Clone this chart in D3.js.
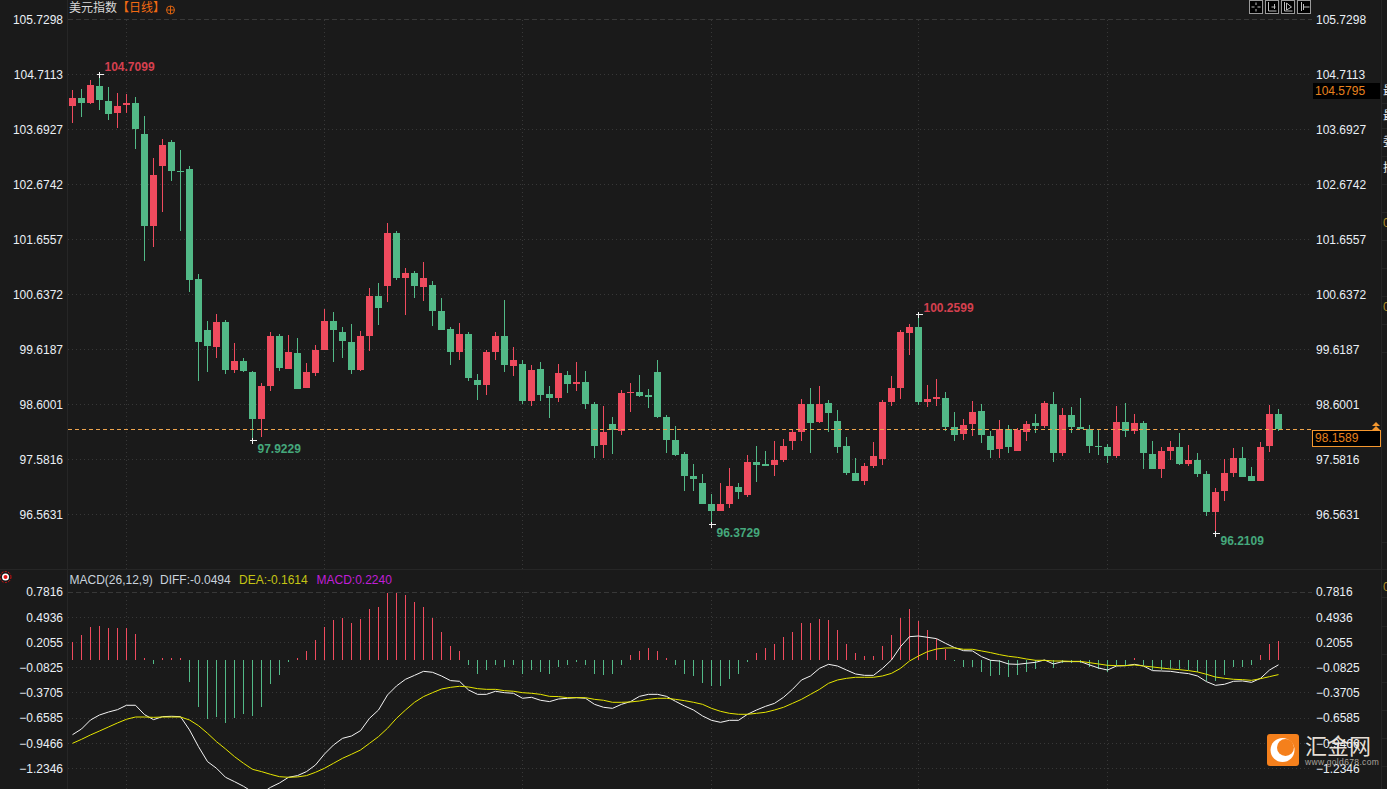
<!DOCTYPE html>
<html>
<head>
<meta charset="utf-8">
<title>美元指数</title>
<script src="https://cdn.jsdelivr.net/npm/d3@7"></script>
<style>
html, body { margin: 0; padding: 0; background: #1a1a1a; overflow: hidden; }
svg { display: block; }
text { font-family: "Liberation Sans", Arial, sans-serif; font-size: 12px; }
.cjk { font-family: "Noto Sans CJK SC", sans-serif; }
.axis text { fill: #eaf0f6; }
.axis path, .axis line { display: none; }
</style>
</head>
<body>
<div id="chart"></div>
<script>
/* === 美元指数 daily candles + MACD === */

var opens = [
    104.12,104.27,104.18,104.49,104.22,103.99,104.14,104.18,103.61,101.90,
    103.01,103.46,102.92,102.96,100.92,99.98,99.66,100.12,99.24,99.40,
    99.20,98.33,98.94,99.86,99.25,99.55,98.90,99.18,99.60,100.14,
    99.94,99.75,99.24,99.86,100.61,100.79,101.77,100.94,101.03,100.77,
    100.81,100.33,99.99,99.57,99.90,99.05,98.96,99.57,99.86,99.31,
    99.35,98.66,99.25,98.79,98.72,99.14,98.98,99.01,98.61,97.85,
    98.24,98.11,98.81,98.83,98.77,99.20,98.36,97.94,97.68,97.27,
    97.14,96.75,96.62,96.75,97.07,96.92,97.53,97.49,97.48,97.57,
    97.92,98.09,98.61,98.27,98.62,98.29,97.83,97.33,97.18,97.46,
    97.59,98.64,98.90,99.92,100.03,98.64,98.70,98.72,98.18,98.05,
    98.24,98.48,98.01,97.77,98.14,97.73,98.09,98.25,98.20,98.61,
    97.70,98.40,98.18,98.14,97.83,97.81,97.64,98.27,98.11,98.25,
    97.68,97.40,97.73,97.81,97.49,97.57,97.31,96.60,96.99,97.33,
    97.60,97.27,97.18,97.83,98.42
];
var closes = [
    104.27,104.18,104.51,104.24,103.98,104.12,104.18,103.70,101.90,102.85,
    103.40,102.92,102.90,100.90,99.75,99.68,100.12,99.24,99.40,99.22,
    98.33,98.94,99.86,99.27,99.57,98.88,99.20,99.60,100.14,99.98,
    99.77,99.24,99.86,100.61,100.38,101.77,100.94,101.03,100.79,100.94,
    100.33,99.98,99.57,99.90,99.09,98.96,99.57,99.86,99.33,99.42,
    98.66,99.24,98.77,98.72,99.18,98.98,99.01,98.61,97.83,98.09,
    98.12,98.81,98.83,98.75,98.73,98.36,97.94,97.66,97.27,97.22,
    96.75,96.62,96.75,97.09,96.98,97.53,97.48,97.46,97.57,97.83,
    98.09,98.61,98.25,98.61,98.44,97.81,97.33,97.18,97.46,97.64,
    98.64,98.90,99.94,100.03,98.64,98.70,98.74,98.18,98.03,98.22,
    98.46,98.03,97.75,98.14,97.81,98.12,98.24,98.20,98.62,97.70,
    98.40,98.18,98.14,97.83,97.81,97.64,98.27,98.11,98.25,97.70,
    97.40,97.73,97.81,97.49,97.57,97.31,96.60,96.98,97.33,97.60,
    97.25,97.18,97.81,98.42,98.14
];
var highs = [
    104.42,104.44,104.61,104.7099,104.48,104.36,104.35,104.29,103.94,103.16,
    103.51,103.49,103.31,103.01,101.01,100.14,100.27,100.16,99.73,99.46,
    99.22,98.99,99.94,99.90,99.88,99.83,99.36,99.70,100.36,100.31,
    100.03,100.09,99.96,100.75,100.85,101.96,101.81,101.12,101.07,101.24,
    100.88,100.57,100.03,100.11,99.94,99.16,99.60,99.94,100.53,99.66,
    99.42,99.33,99.38,98.94,99.35,99.22,99.38,99.22,98.64,98.57,
    98.36,98.86,98.99,99.14,98.88,99.42,98.40,98.20,97.72,97.49,
    97.31,96.94,97.14,97.42,97.14,97.66,97.83,97.73,97.92,97.96,
    98.12,98.70,98.90,98.94,98.68,98.49,98.00,97.60,97.51,97.90,
    98.68,99.12,99.98,100.09,100.2599,98.96,99.07,98.83,98.46,98.33,
    98.66,98.61,98.11,98.31,98.22,98.16,98.29,98.42,98.66,98.83,
    98.53,98.55,98.72,98.22,98.12,97.87,98.57,98.62,98.42,98.29,
    97.92,97.81,97.92,98.07,97.85,97.70,97.36,97.05,97.59,97.79,
    97.81,97.44,97.90,98.59,98.51
];
var lows = [
    103.81,103.92,104.16,104.05,103.87,103.72,103.99,103.33,101.25,101.51,
    102.16,102.74,101.81,100.68,99.03,99.20,99.46,99.16,99.18,99.20,
    97.9229,98.00,98.85,99.22,99.25,98.88,98.90,99.12,99.60,99.38,
    99.46,99.16,99.22,99.59,100.07,100.49,100.90,100.25,100.57,100.51,
    100.05,99.98,99.33,99.42,99.03,98.68,98.77,99.42,99.20,99.12,
    98.61,98.57,98.66,98.35,98.64,98.81,98.85,98.51,97.60,97.60,
    97.68,98.03,98.46,98.73,98.53,98.35,97.70,97.64,96.99,96.99,
    96.75,96.3729,96.62,96.68,96.85,96.88,97.16,97.46,97.27,97.53,
    97.75,97.92,97.70,98.25,98.09,97.70,97.29,97.18,97.11,97.42,
    97.48,98.57,98.70,99.51,98.59,98.55,98.57,98.11,97.92,97.94,
    98.01,97.88,97.60,97.60,97.70,97.73,97.92,98.07,98.16,97.53,
    97.64,98.07,98.14,97.70,97.66,97.51,97.60,97.99,98.05,97.40,
    97.40,97.24,97.57,97.48,97.46,97.25,96.53,96.2109,96.81,97.25,
    97.25,97.18,97.18,97.72,98.11
];

var macdHist = [
    0.206,0.286,0.377,0.389,0.366,0.366,0.366,0.297,0.023,-0.04,
    0.034,0.023,0.023,-0.25,-0.526,-0.674,-0.651,-0.709,-0.663,-0.606,
    -0.64,-0.526,-0.274,-0.171,-0.023,0.023,0.103,0.229,0.377,0.457,
    0.48,0.423,0.469,0.583,0.617,0.777,0.777,0.743,0.674,0.617,
    0.48,0.331,0.171,0.114,-0.046,-0.149,-0.114,-0.057,-0.069,-0.057,
    -0.149,-0.114,-0.137,-0.149,-0.08,-0.046,-0.023,-0.046,-0.149,-0.171,
    -0.16,-0.046,0.057,0.103,0.137,0.103,0.034,-0.057,-0.149,-0.183,
    -0.263,-0.297,-0.286,-0.206,-0.149,-0.023,0.08,0.137,0.194,0.263,
    0.331,0.434,0.434,0.469,0.457,0.343,0.194,0.08,0.046,0.046,
    0.171,0.286,0.48,0.583,0.446,0.343,0.251,0.126,-0.011,-0.069,
    -0.069,-0.126,-0.183,-0.171,-0.194,-0.171,-0.126,-0.103,-0.011,-0.091,
    -0.034,-0.034,-0.034,-0.08,-0.103,-0.126,-0.057,-0.046,0.023,-0.057,
    -0.114,-0.114,-0.103,-0.103,-0.114,-0.126,-0.229,-0.229,-0.171,-0.08,
    -0.069,-0.057,0.057,0.194,0.224
];
var diffLine = [
    -0.848,-0.783,-0.68,-0.623,-0.589,-0.562,-0.512,-0.512,-0.619,-0.676,
    -0.642,-0.638,-0.642,-0.794,-0.985,-1.156,-1.232,-1.335,-1.385,-1.438,
    -1.503,-1.518,-1.45,-1.4,-1.335,-1.316,-1.27,-1.194,-1.069,-0.966,
    -0.89,-0.863,-0.802,-0.661,-0.566,-0.394,-0.291,-0.215,-0.17,-0.124,
    -0.135,-0.177,-0.23,-0.238,-0.337,-0.387,-0.387,-0.352,-0.368,-0.375,
    -0.432,-0.421,-0.455,-0.47,-0.44,-0.432,-0.425,-0.432,-0.501,-0.535,
    -0.547,-0.501,-0.47,-0.41,-0.387,-0.387,-0.41,-0.467,-0.52,-0.566,
    -0.634,-0.684,-0.707,-0.684,-0.684,-0.615,-0.566,-0.524,-0.49,-0.421,
    -0.33,-0.223,-0.177,-0.09,-0.044,-0.063,-0.109,-0.154,-0.17,-0.17,
    -0.09,0.006,0.158,0.272,0.28,0.265,0.25,0.196,0.147,0.112,
    0.109,0.044,0.002,-0.006,-0.04,-0.044,-0.032,-0.021,0.006,-0.04,
    -0.013,-0.013,-0.013,-0.051,-0.086,-0.109,-0.063,-0.059,-0.044,-0.063,
    -0.116,-0.12,-0.124,-0.139,-0.15,-0.177,-0.242,-0.284,-0.272,-0.238,
    -0.234,-0.25,-0.204,-0.109,-0.0494
];
var deaLine = [
    -0.947,-0.901,-0.851,-0.806,-0.76,-0.714,-0.672,-0.646,-0.646,-0.65,
    -0.646,-0.646,-0.646,-0.68,-0.745,-0.832,-0.928,-1.011,-1.099,-1.175,
    -1.244,-1.27,-1.301,-1.328,-1.335,-1.331,-1.316,-1.278,-1.232,-1.175,
    -1.118,-1.072,-1.023,-0.947,-0.87,-0.775,-0.661,-0.566,-0.478,-0.413,
    -0.368,-0.326,-0.307,-0.295,-0.303,-0.322,-0.33,-0.33,-0.345,-0.352,
    -0.368,-0.375,-0.387,-0.41,-0.413,-0.425,-0.425,-0.425,-0.444,-0.455,
    -0.478,-0.478,-0.474,-0.463,-0.444,-0.432,-0.432,-0.444,-0.459,-0.478,
    -0.501,-0.547,-0.581,-0.604,-0.615,-0.615,-0.604,-0.592,-0.566,-0.535,
    -0.49,-0.444,-0.387,-0.33,-0.261,-0.223,-0.204,-0.192,-0.192,-0.192,
    -0.177,-0.147,-0.09,-0.006,0.051,0.101,0.131,0.143,0.143,0.128,
    0.128,0.109,0.09,0.067,0.048,0.036,0.017,0.002,0.002,-0.006,
    -0.006,-0.01,-0.01,-0.025,-0.04,-0.055,-0.059,-0.059,-0.051,-0.063,
    -0.074,-0.086,-0.097,-0.105,-0.116,-0.131,-0.158,-0.189,-0.204,-0.215,
    -0.219,-0.227,-0.208,-0.185,-0.1614
];

var priceTicks = [105.7298,104.7113,103.6927,102.6742,101.6557,100.6372,99.6187,98.6001,97.5816,96.5631];
var macdTicks = [0.7816,0.4936,0.2055,-0.0825,-0.3705,-0.6585,-0.9466,-1.2346];
var gridCandles = [6,28,50,71,94,115];

var extremes = [
    { i: 3, label: '104.7099', high: true },
    { i: 20, label: '97.9229', high: false },
    { i: 71, label: '96.3729', high: false },
    { i: 94, label: '100.2599', high: true },
    { i: 127, label: '96.2109', high: false }
];

var sideChars = [['最',90],['最',115],['委',141],['振',167]];
var sideZeros = [223,307,587];
var sideRows = [103,128,156,184,212,240,268,296,324,352,542,569,597,626,654,682,710,738,766];

var UP = '#ef4b5e', DOWN = '#52b987';
var width = 1387, height = 789;

var svg = d3.select('#chart').append('svg')
    .attr('width', width)
    .attr('height', height);

svg.append('rect').attr('width', width).attr('height', height).attr('fill', '#1a1a1a');

var x = d3.scaleLinear().domain([0, opens.length - 1]).range([72.5, 1278.5]);
var y = d3.scaleLinear().domain([96.5631, 105.7298]).range([514.3, 19.3]);
var yMacd = d3.scaleLinear().domain([-1.2346, 0.7816]).range([768.5, 592.1]);

function snap(v) { return Math.round(v - 0.5) + 0.5; }

/* frame lines */
var frame = svg.append('g').attr('stroke', '#262626').attr('shape-rendering', 'crispEdges');
frame.append('line').attr('x1', 67.5).attr('x2', 67.5).attr('y1', 0).attr('y2', height);
frame.append('line').attr('x1', 1381.5).attr('x2', 1381.5).attr('y1', 0).attr('y2', height);
frame.append('line').attr('x1', 0).attr('x2', 1381).attr('y1', 569.5).attr('y2', 569.5);
frame.selectAll('.row').data(sideRows).join('line')
    .attr('class', 'row')
    .attr('x1', 1381).attr('x2', width)
    .attr('y1', function(d) { return d + 0.5; })
    .attr('y2', function(d) { return d + 0.5; });

/* grid */
function hGrid(ticks, scale) {
    svg.append('g').selectAll('line').data(ticks).join('line')
        .attr('x1', 68).attr('x2', 1312)
        .attr('y1', function(d) { return snap(scale(d)); })
        .attr('y2', function(d) { return snap(scale(d)); })
        .attr('stroke', '#383838')
        .attr('shape-rendering', 'crispEdges')
        .attr('stroke-dasharray', function(d, i) { return i === 0 ? '5,3' : '1,3'; });
}
hGrid(priceTicks, y);
hGrid(macdTicks, yMacd);

var vGrid = svg.append('g');
[[20, 569], [592, 789]].forEach(function(span) {
    vGrid.append('g').selectAll('line').data(gridCandles).join('line')
        .attr('x1', function(d) { return x(d); })
        .attr('x2', function(d) { return x(d); })
        .attr('y1', span[0]).attr('y2', span[1])
        .attr('stroke', '#383838')
        .attr('shape-rendering', 'crispEdges')
        .attr('stroke-dasharray', '1,3');
});

/* axes */
function drawAxis(scale, ticks) {
    svg.append('g').attr('class', 'axis').attr('transform', 'translate(63,0)')
        .call(d3.axisLeft(scale).tickValues(ticks).tickFormat(d3.format('.4f')).tickSize(0).tickPadding(0));
    svg.append('g').attr('class', 'axis').attr('transform', 'translate(1316,0)')
        .call(d3.axisRight(scale).tickValues(ticks).tickFormat(d3.format('.4f')).tickSize(0).tickPadding(0));
}
drawAxis(y, priceTicks);
drawAxis(yMacd, macdTicks);

/* candles */
var candle = svg.append('g').attr('shape-rendering', 'crispEdges')
    .selectAll('g').data(d3.range(opens.length)).join('g');

function candleColor(i) { return closes[i] >= opens[i] ? UP : DOWN; }

candle.append('line')
    .attr('x1', function(i) { return x(i); })
    .attr('x2', function(i) { return x(i); })
    .attr('y1', function(i) { return y(highs[i]); })
    .attr('y2', function(i) { return y(lows[i]); })
    .attr('stroke', candleColor);

candle.append('rect')
    .attr('x', function(i) { return x(i) - 3.5; })
    .attr('width', 7)
    .attr('y', function(i) { return y(Math.max(opens[i], closes[i])); })
    .attr('height', function(i) { return Math.max(1, Math.abs(y(opens[i]) - y(closes[i]))); })
    .attr('fill', candleColor);

/* last price line */
var lastClose = closes[closes.length - 1];
svg.append('line')
    .attr('x1', 68).attr('x2', 1312)
    .attr('y1', snap(y(lastClose))).attr('y2', snap(y(lastClose)))
    .attr('stroke', '#eda44e')
    .attr('stroke-dasharray', '4,3')
    .attr('shape-rendering', 'crispEdges');

/* high and low annotations */
var note = svg.append('g').selectAll('g').data(extremes).join('g');
note.append('line')
    .attr('x1', function(d) { return x(d.i) - 3; })
    .attr('x2', function(d) { return x(d.i) + 4; })
    .attr('y1', function(d) { return snap(y(d.high ? highs[d.i] : lows[d.i])); })
    .attr('y2', function(d) { return snap(y(d.high ? highs[d.i] : lows[d.i])); })
    .attr('stroke', '#f2f2f2')
    .attr('shape-rendering', 'crispEdges');
note.append('line')
    .attr('x1', function(d) { return x(d.i); })
    .attr('x2', function(d) { return x(d.i); })
    .attr('y1', function(d) { return snap(y(d.high ? highs[d.i] : lows[d.i])) - 3; })
    .attr('y2', function(d) { return snap(y(d.high ? highs[d.i] : lows[d.i])) + 3; })
    .attr('stroke', '#f2f2f2')
    .attr('shape-rendering', 'crispEdges');
note.append('text')
    .attr('x', function(d) { return x(d.i) + 5; })
    .attr('y', function(d) { return y(d.high ? highs[d.i] : lows[d.i]) + (d.high ? -3 : 12); })
    .attr('font-weight', 'bold')
    .style('font-weight', 'bold')
    .attr('fill', function(d) { return d.high ? '#d5404f' : '#45a87c'; })
    .text(function(d) { return d.label; });

/* MACD histogram */
svg.append('g').attr('shape-rendering', 'crispEdges')
    .selectAll('line').data(macdHist).join('line')
    .attr('x1', function(d, i) { return x(i); })
    .attr('x2', function(d, i) { return x(i); })
    .attr('y1', yMacd(0))
    .attr('y2', function(d) { return yMacd(d); })
    .attr('stroke', function(d) { return d >= 0 ? UP : DOWN; });

/* MACD lines */
var macdPath = d3.line()
    .x(function(d, i) { return x(i); })
    .y(function(d) { return yMacd(d); });
svg.append('path').attr('d', macdPath(diffLine))
    .attr('fill', 'none').attr('stroke', '#f4f4f4').attr('stroke-width', 1);
svg.append('path').attr('d', macdPath(deaLine))
    .attr('fill', 'none').attr('stroke', '#e6e600').attr('stroke-width', 1);

/* MACD legend */
var legend = svg.append('g');
[['MACD(26,12,9)', 69.5, '#c9d3dd'], ['DIFF:-0.0494', 160, '#c9d3dd'],
 ['DEA:-0.1614', 239, '#c4c414'], ['MACD:0.2240', 316.5, '#c01fd6']].forEach(function(t) {
    legend.append('text').attr('x', t[1]).attr('y', 584).attr('fill', t[2]).text(t[0]);
});

/* title */
svg.append('text').attr('class', 'cjk').attr('x', 69).attr('y', 12)
    .style('font-family', '"Noto Sans CJK SC"').attr('fill', '#d8d8d8').text('美元指数');
svg.append('text').attr('class', 'cjk').attr('x', 117).attr('y', 12)
    .style('font-family', '"Noto Sans CJK SC"').attr('fill', '#f26a12').text('【日线】');
var titleIcon = svg.append('g').attr('stroke', '#d9600f').attr('fill', 'none');
titleIcon.append('circle').attr('cx', 170.5).attr('cy', 10).attr('r', 4);
titleIcon.append('path').attr('d', 'M166.5,10H174.5M170.5,6V14');

/* toolbar icons */
var tools = svg.append('g');
[1249.5, 1265.5, 1281.5, 1297.5].forEach(function(left, k) {
    tools.append('rect').attr('x', left).attr('y', 0.5).attr('width', 13).attr('height', 13)
        .attr('fill', '#000').attr('stroke', '#9a9a9a').attr('shape-rendering', 'crispEdges');
    var g = ['M' + (left + 2) + ',7H' + (left + 5) + 'M' + (left + 8) + ',7H' + (left + 11) + 'M' + (left + 6.5) + ',2.5V5M' + (left + 6.5) + ',9V11.5',
             'M' + (left + 3) + ',2V11H' + (left + 11) + 'M' + (left + 6) + ',7H' + (left + 10) + 'M' + (left + 9) + ',4V9',
             'M' + (left + 3) + ',2V11H' + (left + 11) + 'M' + (left + 5) + ',3L' + (left + 10) + ',7L' + (left + 5) + ',10Z',
             'M' + (left + 4) + ',2V11M' + (left + 6) + ',4V10M' + (left + 6) + ',7H' + (left + 12)][k];
    tools.append('path').attr('d', g).attr('fill', 'none').attr('stroke', '#bdbdbd');
});

/* price tags */
svg.append('rect').attr('x', 1313).attr('y', 83).attr('width', 67).attr('height', 16).attr('fill', '#000');
svg.append('text').attr('x', 1315).attr('y', 95).attr('fill', '#e8821e').text('104.5795');

svg.append('rect').attr('x', 1312.5).attr('y', 430.5).attr('width', 68).attr('height', 16)
    .attr('fill', '#000').attr('stroke', '#f5972e').attr('shape-rendering', 'crispEdges');
svg.append('text').attr('x', 1315).attr('y', 442).attr('fill', '#e8821e').text('98.1589');
svg.append('path').attr('d', 'M1372,426L1376,422L1380,426ZM1372,430L1376,426L1380,430Z').attr('fill', '#f5972e');

/* right edge, cut off by the window */
svg.append('g').selectAll('text').data(sideChars).join('text')
    .attr('x', 1383)
    .attr('y', function(d) { return d[1] + 5; })
    .style('font-family', '"Noto Sans CJK SC"')
    .attr('fill', '#f0f0f0')
    .text(function(d) { return d[0]; });
svg.append('g').selectAll('text').data(sideZeros).join('text')
    .attr('x', 1383)
    .attr('y', function(d) { return d + 4; })
    .attr('fill', '#b3902c')
    .text('0');

/* busy dot at panel start */
var dot = svg.append('g');
dot.append('circle').attr('cx', 5.5).attr('cy', 577).attr('r', 5.5)
    .attr('fill', 'none').attr('stroke', '#e01010').attr('stroke-dasharray', '2,1.5');
dot.append('circle').attr('cx', 5.5).attr('cy', 577).attr('r', 3.5).attr('fill', '#fff');
dot.append('circle').attr('cx', 5.5).attr('cy', 577).attr('r', 2).attr('fill', '#e01010');

/* watermark */
var mark = svg.append('g');
mark.append('rect').attr('x', 1267).attr('y', 734).attr('width', 32).attr('height', 32)
    .attr('rx', 3).attr('fill', '#f5801c');
mark.append('circle').attr('cx', 1282.5).attr('cy', 750).attr('r', 12).attr('fill', '#fff');
mark.append('circle').attr('cx', 1285.5).attr('cy', 747.5).attr('r', 8.5).attr('fill', '#f5801c');
mark.append('text').attr('x', 1305).attr('y', 754)
    .style('font-family', '"Noto Sans CJK SC"').style('font-size', '22px')
    .attr('fill', '#f3ebe2').attr('fill-opacity', 0.95).text('汇金网');
mark.append('text').attr('x', 1305).attr('y', 765)
    .style('font-size', '8.5px').attr('fill', '#a8a29c').attr('letter-spacing', '0.35').text('www.gold678.com');
</script>
</body>
</html>
